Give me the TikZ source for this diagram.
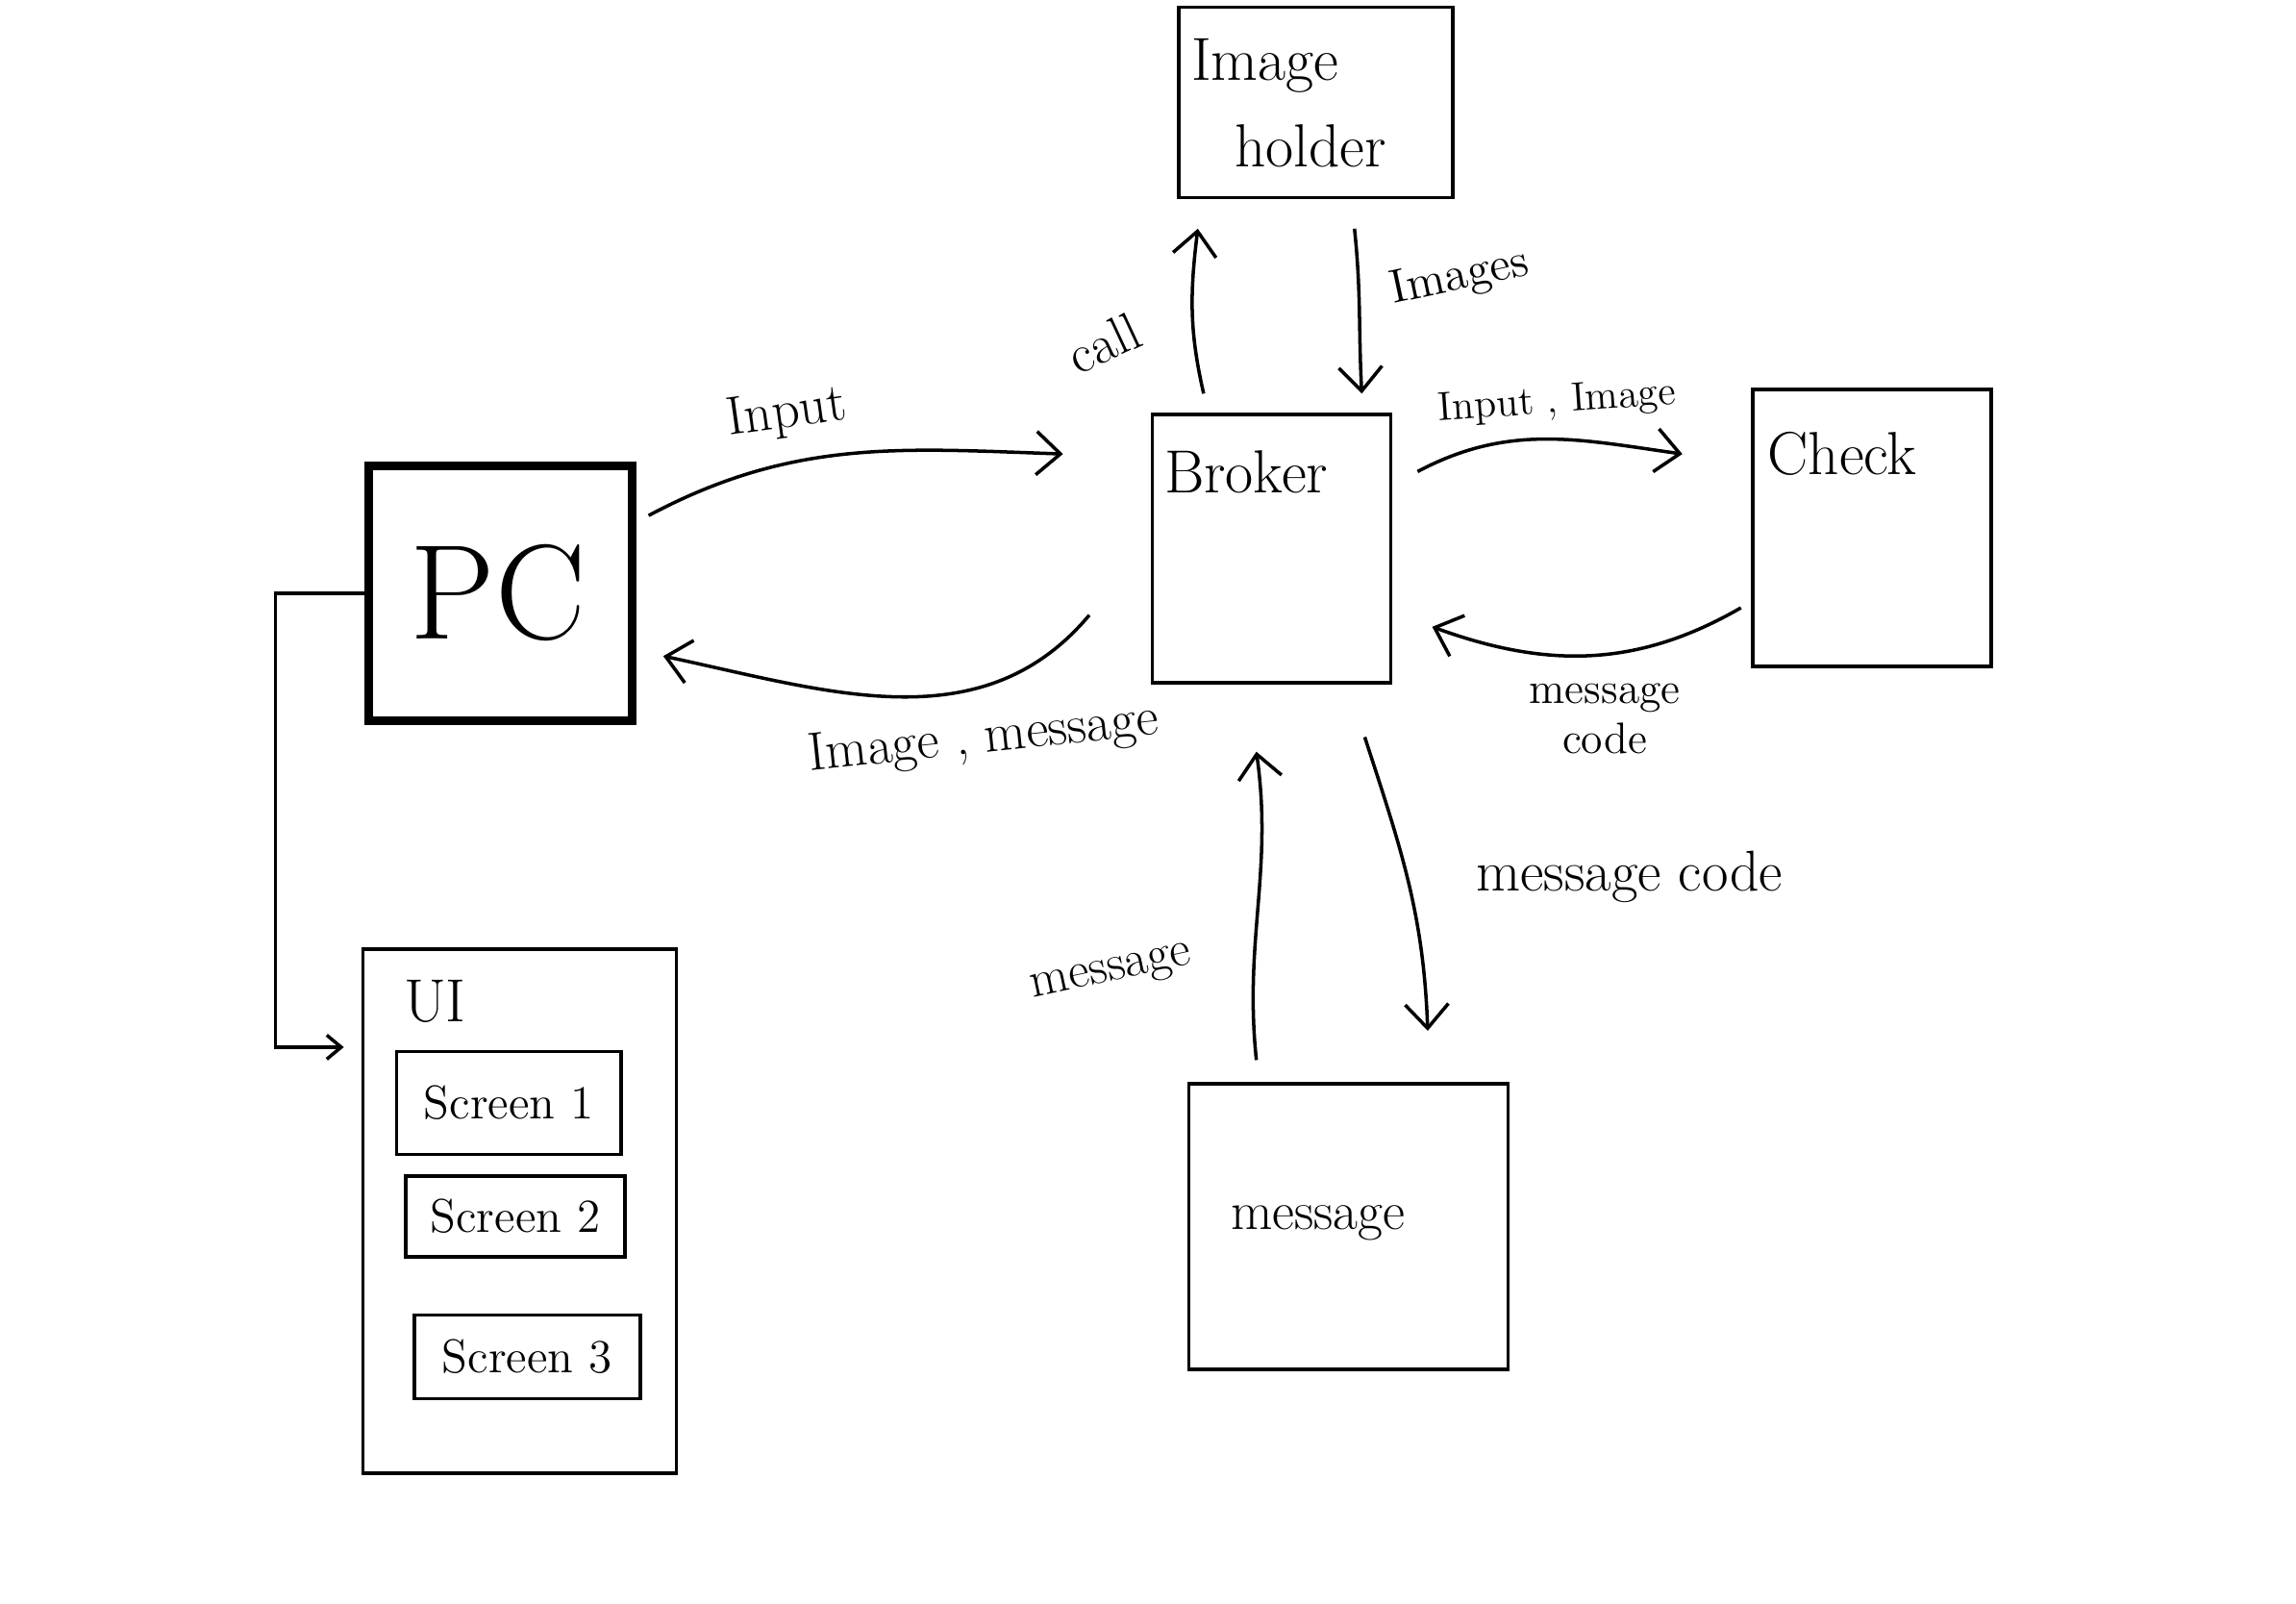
\documentclass[tikz,border=0pt]{standalone}
\usepackage{tikz}
\usetikzlibrary{arrows.meta,positioning,calc}
\tikzset{
box/.style = {draw, rectangle, line width=1pt, inner sep=0pt},
thickbox/.style = {draw, rectangle, line width=2.6pt, inner sep=0pt},
screenbox/.style = {draw, rectangle, line width=1pt, inner sep=0pt, font=\fontsize{14}{16}\selectfont},
lbl/.style = {inner sep=0pt, font=\fontsize{16}{18}\selectfont},
title/.style = {inner sep=0pt, font=\fontsize{18}{20}\selectfont},
wire/.style = {->, line width=1pt}
}

\begin{document}
\begin{tikzpicture}[x=0.01523cm, y=-0.01523cm, >={Straight Barb[length=2.5mm,width=4.5mm]}]
  \useasboundingbox (0,0) rectangle (1568,1095);
  % boxes
  \node [box, minimum width=2.85cm, minimum height=1.98cm]  (holder)  at (898.5,70)  {};
  \node [box, minimum width=2.48cm, minimum height=2.79cm]  (broker)  at (868.5,374.5) {};
  \node [box, minimum width=2.48cm, minimum height=2.88cm]  (check)   at (1278.5,360.5) {};
  \node [thickbox, minimum width=2.74cm, minimum height=2.65cm] (pc) at (342,405) {};
  \node [box, minimum width=3.26cm, minimum height=5.45cm]  (ui)      at (355,827)  {};
  \node [box, minimum width=3.32cm, minimum height=2.97cm]  (msg)     at (921,837.5) {};
  \node [screenbox, minimum width=2.33cm, minimum height=1.07cm] (scr1) at (347.5,753) {Screen 1};
  \node [screenbox, minimum width=2.28cm, minimum height=0.84cm] (scr2) at (352,830.5) {Screen 2};
  \node [screenbox, minimum width=2.35cm, minimum height=0.87cm] (scr3) at (360,926.5) {Screen 3};

  % box titles
  \node [title] (holdera) at (864,45)   {Image};
  \node [title] (holderb) at (895,100)  {holder};
  \node [title] (brokert) at (851,322)  {Broker};
  \node [title] (checkt)  at (1258,310) {Check};
  \node [inner sep=0pt, font=\fontsize{40}{40}\selectfont] (pct) at (340,405) {PC};
  \node [title] (uit)     at (297,684)  {UI};
  \node [lbl]   (msgt)    at (900,835)  {message};

  % connectors
  \draw [wire] ($(pc.east)+(8,-53)$) to[out=28,in=178]
    node [lbl, pos=0.35, above=7pt, rotate=8] (lin) {Input} ($(broker.west)+(-60,-64.5)$);
  \draw [wire] ($(broker.west)+(-42,45.5)$) to[out=-130,in=-12]
    node [lbl, pos=0.3, below=8pt, rotate=6] (lout) {Image , message} ($(pc.east)+(18,43)$);
  \draw [wire] ($(broker.north)+(-46.5,-13)$) to[out=103,in=-97]
    node [lbl, pos=0.4, left=16pt, rotate=25] (lcall) {call} ($(holder.south)+(-80.5,20)$);
  \draw [wire] ($(holder.south)+(26.5,20)$) to[out=-84,in=93]
    node [lbl, pos=0.38, right=9pt, rotate=12, font=\fontsize{14}{16}\selectfont] (limg) {Images} ($(broker.north)+(61.5,-13)$);
  \draw [wire] ($(broker.east)+(17,-52.5)$) to[out=28,in=172]
    node [lbl, pos=0.55, above=5pt, rotate=4, font=\fontsize{12}{14}\selectfont] (lii) {Input , Image} ($(check.west)+(-47,-50.5)$);
  \draw [wire] ($(check.west)+(-7,54.5)$) to[out=-150,in=-20]
    node [lbl, pos=0.45, below=8pt, align=center, font=\fontsize{13}{15}\selectfont] (lcode) {message\\code} ($(broker.east)+(27,53.5)$);
  \draw [wire] ($(broker.south)+(63.5,36)$) to[out=-72,in=92]
    node [lbl, pos=0.48, right=20pt, font=\fontsize{17}{19}\selectfont] (lcode2) {message code} ($(msg.north)+(54,-35)$);
  \draw [wire] ($(msg.north)+(-63,-15)$) to[out=96,in=-82]
    node [lbl, pos=0.32, left=18pt, rotate=12, font=\fontsize{15}{17}\selectfont] (lmsg) {message} ($(broker.south)+(-10.5,46)$);
  \coordinate (bend) at (188,405);
  \draw [->, line width=1pt, >={Straight Barb[length=1.5mm,width=2.5mm]}] (pc.west) -- (bend) |- ($(ui.west)+(-12,-112)$);
\end{tikzpicture}
\end{document}
